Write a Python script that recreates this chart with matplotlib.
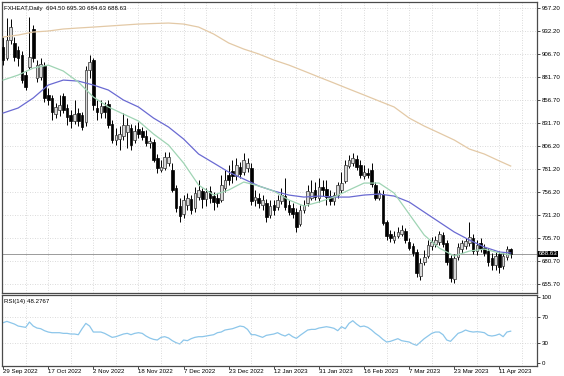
import matplotlib
matplotlib.use("Agg")
import matplotlib.pyplot as plt
import matplotlib.transforms as mtransforms

plt.rcParams['font.family'] = ['Liberation Sans', 'DejaVu Sans']

# daily candles, 29 Sep 2022 .. 14 Apr 2023
opens = [914.6, 902.6, 922.2, 919.0, 911.3, 905.9, 884.0, 892.8, 934.3, 880.7,
         881.8, 893.8, 862.2, 858.9, 841.4, 845.8, 861.1, 848.0, 840.3, 833.8,
         842.5, 840.3, 832.7, 889.5, 900.4, 848.0, 842.5, 850.2, 852.3, 830.5,
         813.0, 814.1, 817.4, 821.7, 826.1, 813.0, 825.0, 822.8, 817.4, 809.7,
         810.8, 793.3, 780.2, 782.4, 787.9, 780.2, 760.6, 740.9, 732.2, 742.0,
         748.6, 738.7, 750.7, 757.3, 748.6, 757.3, 751.8, 749.7, 747.5, 760.6,
         774.8, 779.1, 773.7, 783.5, 778.1, 782.4, 782.4, 747.5, 749.7, 742.0,
         744.2, 731.1, 742.0, 739.8, 746.4, 751.8, 742.0, 738.7, 734.4, 721.2,
         736.5, 744.2, 749.7, 758.4, 749.7, 761.7, 759.5, 751.8, 746.4, 752.9,
         758.4, 768.2, 784.6, 787.9, 792.3, 785.7, 773.7, 776.9, 780.2, 763.9,
         749.7, 754.0, 723.4, 710.3, 703.8, 708.1, 710.3, 713.6, 701.6, 697.2,
         690.7, 664.4, 679.7, 686.3, 697.2, 699.4, 701.6, 709.2, 700.5, 684.1,
         661.2, 685.2, 693.9, 697.2, 700.5, 706.0, 691.7, 700.5, 695.0, 691.7,
         684.1, 676.5, 688.5, 675.4, 685.2, 694.50]
highs = [925.5, 946.3, 945.2, 925.5, 915.7, 910.2, 888.4, 947.4, 938.6, 900.4,
         902.6, 898.2, 869.8, 862.2, 853.4, 862.2, 864.4, 852.3, 845.8, 856.7,
         848.0, 843.6, 893.8, 905.9, 902.6, 856.7, 856.7, 854.5, 856.7, 834.9,
         826.1, 828.3, 842.5, 837.0, 830.5, 829.4, 832.7, 827.2, 823.9, 816.3,
         814.1, 797.7, 791.2, 799.9, 799.9, 787.9, 763.9, 749.7, 752.9, 755.1,
         752.9, 761.7, 769.3, 760.6, 760.6, 762.8, 756.2, 755.1, 774.8, 780.2,
         785.7, 791.2, 793.3, 788.9, 798.8, 793.3, 787.9, 758.4, 755.1, 752.9,
         748.6, 747.5, 747.5, 752.9, 760.6, 771.5, 747.5, 744.2, 738.7, 742.0,
         747.5, 763.9, 769.3, 767.1, 771.5, 769.3, 769.3, 758.4, 756.2, 767.1,
         778.1, 791.2, 796.6, 798.8, 796.6, 791.2, 785.7, 782.4, 787.9, 767.1,
         758.4, 758.4, 725.6, 714.7, 713.6, 718.0, 720.2, 716.9, 706.0, 700.5,
         693.9, 684.1, 692.8, 703.8, 707.0, 708.1, 713.6, 712.5, 703.8, 687.4,
         688.5, 700.5, 703.8, 706.0, 723.4, 710.3, 703.8, 706.0, 699.4, 695.0,
         689.6, 690.7, 691.7, 690.7, 697.2, 695.30]
lows = [894.9, 900.4, 917.9, 899.3, 893.8, 875.3, 867.6, 890.6, 898.2, 876.4,
        878.6, 854.5, 851.2, 834.9, 837.0, 839.2, 842.5, 829.4, 826.1, 830.5,
        828.3, 823.9, 828.3, 880.7, 845.8, 834.9, 837.0, 837.0, 826.1, 809.7,
        807.5, 802.1, 813.0, 804.3, 802.1, 809.7, 815.2, 813.0, 806.5, 804.3,
        789.0, 777.0, 778.1, 780.2, 784.6, 756.2, 734.4, 723.4, 727.8, 736.5,
        732.2, 734.4, 747.5, 738.7, 740.9, 744.2, 736.5, 739.8, 745.3, 756.2,
        763.9, 766.0, 769.3, 771.5, 774.8, 778.1, 742.0, 740.9, 738.7, 736.5,
        723.4, 727.8, 731.1, 736.5, 743.1, 736.5, 731.1, 727.8, 712.5, 719.1,
        733.3, 740.9, 747.5, 747.5, 745.3, 751.8, 742.0, 742.0, 742.0, 749.7,
        755.1, 766.0, 782.4, 784.6, 780.2, 771.5, 770.4, 771.5, 761.7, 747.5,
        747.5, 720.2, 703.8, 701.6, 700.5, 706.0, 708.1, 700.5, 692.8, 686.3,
        663.4, 660.1, 676.5, 684.1, 692.8, 696.1, 698.3, 696.1, 676.5, 657.9,
        656.8, 681.9, 689.6, 693.9, 697.2, 688.5, 687.4, 690.7, 686.3, 675.4,
        671.0, 671.0, 667.7, 672.1, 681.9, 684.63]
closes = [900.4, 922.2, 936.5, 903.7, 902.6, 878.6, 870.9, 903.7, 902.6, 894.9,
          896.0, 858.9, 856.7, 843.6, 849.1, 851.2, 845.8, 838.1, 833.8, 841.4,
          833.8, 827.2, 889.5, 898.2, 851.2, 843.6, 850.2, 843.6, 829.4, 813.0,
          818.5, 819.6, 829.4, 829.4, 807.5, 822.8, 819.6, 816.3, 809.7, 811.9,
          791.2, 782.4, 783.5, 794.4, 794.4, 758.4, 738.7, 730.0, 747.5, 749.7,
          736.5, 755.1, 758.4, 748.6, 756.2, 749.7, 745.3, 744.2, 763.9, 769.3,
          769.3, 773.7, 785.7, 775.9, 791.2, 787.9, 746.4, 750.7, 744.2, 747.5,
          728.9, 740.9, 736.5, 747.5, 752.9, 739.8, 734.4, 732.2, 718.0, 736.5,
          742.0, 757.3, 756.2, 750.7, 761.7, 758.4, 750.7, 746.4, 752.9, 763.9,
          766.0, 785.7, 791.2, 793.3, 783.5, 774.8, 778.1, 774.8, 764.9, 749.7,
          755.1, 722.3, 708.1, 706.0, 708.1, 712.5, 714.7, 703.8, 695.0, 689.6,
          667.7, 678.6, 685.2, 698.3, 701.6, 703.8, 710.3, 699.4, 679.7, 662.3,
          684.1, 696.1, 700.5, 702.7, 707.0, 691.7, 698.3, 693.9, 689.6, 679.7,
          676.5, 686.3, 674.3, 686.3, 693.9, 688.63]

# moving averages, read every 4 bars
ma_bars = [0, 4, 8, 12, 16, 20, 24, 28, 32, 36, 40, 44, 48, 52, 56, 60, 64, 68,
           72, 76, 80, 84, 88, 92, 96, 100, 104, 108, 112, 116, 120, 124, 128, 132, 135]
ma_fast = [878.5, 884.0, 891.6, 894.9, 888.4, 876.4, 860.0, 849.1, 841.4, 833.8,
           819.6, 807.5, 787.9, 763.8, 752.9, 758.4, 767.1, 762.8, 757.3, 747.5,
           740.9, 745.3, 750.7, 758.4, 766.0, 766.0, 755.1, 732.2, 709.2, 695.0,
           686.3, 691.7, 693.9, 689.6, 687.4]
ma_mid = [842.5, 848.0, 858.9, 873.1, 878.5, 877.4, 873.1, 867.6, 856.7, 849.1,
          837.0, 827.2, 814.1, 797.7, 787.9, 778.0, 770.4, 762.8, 757.3, 752.9,
          750.7, 751.8, 750.7, 750.7, 752.9, 754.0, 751.8, 745.3, 734.3, 723.4,
          712.5, 703.8, 696.1, 690.7, 689.6]
ma_slow = [925.5, 927.7, 931.0, 932.1, 934.3, 935.4, 936.4, 937.5, 938.6, 939.7,
           940.3, 940.8, 939.7, 936.4, 928.8, 919.0, 912.4, 907.0, 900.4, 894.9,
           888.4, 881.8, 875.3, 868.7, 862.2, 855.6, 849.1, 837.0, 828.3, 820.7,
           813.0, 803.2, 797.7, 790.1, 784.6]

rsi = [61, 63, 61, 59, 56, 55, 54, 62, 56, 53, 52, 49, 47, 46, 46, 46, 45, 45, 44, 44,
       43, 52, 60, 56, 47, 47, 47, 45, 42, 39, 40, 42, 44, 45, 43, 45, 46, 45, 41, 38,
       36, 35, 39, 40, 38, 34, 31, 29, 35, 34, 37, 39, 40, 40, 41, 42, 43, 46, 47, 50,
       51, 52, 54, 56, 55, 51, 43, 43, 41, 39, 42, 43, 44, 46, 43, 41, 44, 40, 37.5, 42,
       46, 50, 51, 51, 53, 54, 55, 54, 52.6, 49, 55, 52, 60, 64, 59, 55, 56, 54, 50, 45,
       41, 36, 32, 33, 35, 37, 34, 33, 32, 29, 27, 32, 37, 41, 45, 47, 47, 43, 35, 33,
       39, 45, 47, 50, 48, 47, 47.5, 47, 46, 42, 41, 42, 44, 40, 47, 48.28]

price_ticks = [957.20, 932.20, 906.70, 881.70, 856.70, 831.70, 806.20, 781.20,
               756.20, 731.20, 705.70, 680.70, 655.70]
date_labels = ['29 Sep 2022', '17 Oct 2022', '2 Nov 2022', '18 Nov 2022', '7 Dec 2022',
               '23 Dec 2022', '12 Jan 2023', '31 Jan 2023', '16 Feb 2023', '7 Mar 2023',
               '23 Mar 2023', '11 Apr 2023']
last_price = 688.63
last_rsi = 48.2767

W, H = 564, 376
fig = plt.figure(figsize=(W / 100, H / 100), dpi=100)
ax1 = fig.add_axes([2 / W, 1 - 293 / H, 535 / W, 291 / H])
ax2 = fig.add_axes([2 / W, 1 - 365.5 / H, 535 / W, 71 / H])

n = len(closes)
xs = list(range(n))
grid_kw = dict(color='#cfcfcf', linestyle=(0, (1, 2)), linewidth=0.6)
edge = '#4a4a4a'
fs = 4.4

for ax in (ax1, ax2):
    ax.set_xlim(-0.3, 142.0)
    ax.set_xticks(range(0, 142, 6), minor=True)
    ax.grid(which='minor', axis='x', **grid_kw)
    for s in ax.spines.values():
        s.set_color(edge)
        s.set_linewidth(0.9)
    ax.set_axisbelow(True)

# candles
ax1.vlines(xs, lows, highs, color='black', linewidth=0.7, zorder=2)
for i in xs:
    o, c = opens[i], closes[i]
    bot = min(o, c)
    h = max(abs(c - o), 0.8)
    if c >= o:
        ax1.bar(i, h, bottom=bot, width=0.7, color='#d8d8d8', edgecolor='#303030',
                linewidth=0.5, zorder=3)
    else:
        ax1.bar(i, h, bottom=bot, width=0.7, color='black', edgecolor='black',
                linewidth=0.5, zorder=3)

ax1.plot(ma_bars, ma_slow, color='#e3c9a6', linewidth=0.9, zorder=4)
ax1.plot(ma_bars, ma_mid, color='#6a6ad2', linewidth=0.9, zorder=4)
ax1.plot(ma_bars, ma_fast, color='#9fd4b4', linewidth=0.9, zorder=4)
ax1.axhline(last_price, color='#9a9a9a', linewidth=0.7, zorder=1)

ax1.set_ylim(645.9, 963.8)
ax1.set_yticks(price_ticks)
ax1.set_yticklabels(['%.2f' % v for v in price_ticks])
ax1.yaxis.tick_right()
ax1.tick_params(axis='y', labelsize=fs, length=2, width=0.5, pad=1.2, colors='black')
ax1.tick_params(axis='x', which='both', bottom=False, labelbottom=False)
ax1.grid(axis='y', which='major', **grid_kw)

trans = mtransforms.blended_transform_factory(ax1.transAxes, ax1.transData)
ax1.text(1.003, last_price, '%.2f' % last_price, transform=trans, color='white',
         fontsize=fs, va='center', ha='left',
         bbox=dict(facecolor='black', edgecolor='none', pad=0.6), zorder=6)
ax1.text(0.003, 0.985, 'FXHEAT,Daily  694.50 695.30 684.63 688.63', transform=ax1.transAxes,
         fontsize=fs, va='top', ha='left', color='black')

# RSI panel
ax2.plot(xs, rsi, color='#8cc6ea', linewidth=0.9)
ax2.set_ylim(-3.3, 103.4)
ax2.set_yticks([100, 70, 30, 0])
ax2.set_yticklabels(['100', '70', '30', '0'])
ax2.yaxis.tick_right()
ax2.tick_params(axis='y', labelsize=fs, length=2, width=0.5, pad=1.2)
for lvl in (70, 30):
    ax2.axhline(lvl, **grid_kw)
ax2.set_xticks(range(0, 12 * len(date_labels), 12))
ax2.set_xticklabels(date_labels, ha='left')
ax2.tick_params(axis='x', which='major', labelsize=fs, length=2, width=0.5, pad=0.8)
ax2.tick_params(axis='x', which='minor', length=0)
ax2.text(0.003, 0.93, 'RSI(14) %.4f' % last_rsi, transform=ax2.transAxes,
         fontsize=fs, va='top', ha='left', color='black')

fig.savefig('out.png', dpi=100)
